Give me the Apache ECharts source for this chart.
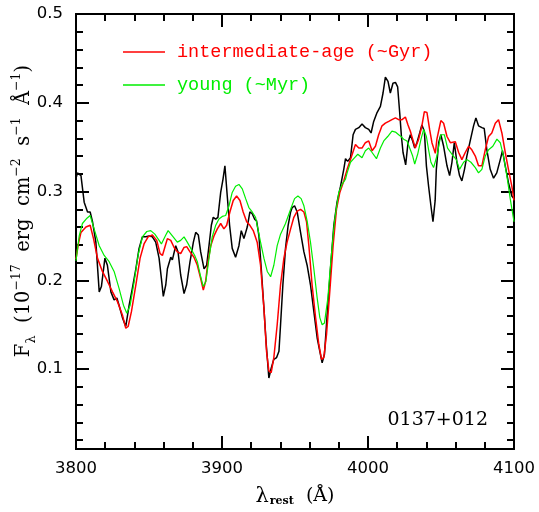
<!DOCTYPE html>
<html>
<head>
<meta charset="utf-8">
<script src="https://cdn.jsdelivr.net/npm/echarts@6/dist/echarts.min.js"></script>
<style>
  html, body { margin: 0; padding: 0; background: #fff; }
  #chart { width: 539px; height: 512px; }
</style>
</head>
<body>
<div id="chart"></div>
<script>
// observed spectrum (black)
const obsWave = [3800.0, 3801.0, 3803.4, 3805.6, 3807.9, 3809.7, 3811.3, 3813.6, 3815.9, 3817.4, 3819.8, 3821.5, 3823.9, 3826.1, 3828.0, 3829.5, 3831.8, 3834.1, 3836.4, 3838.6, 3841.0, 3843.2, 3845.5, 3847.8, 3850.1, 3852.3, 3854.6, 3856.9, 3858.5, 3859.8, 3861.5, 3862.6, 3864.9, 3866.0, 3868.3, 3869.9, 3871.7, 3874.0, 3875.8, 3878.1, 3880.4, 3882.0, 3883.8, 3885.4, 3887.7, 3889.5, 3891.1, 3892.7, 3894.0, 3895.7, 3897.2, 3899.1, 3900.7, 3902.0, 3903.6, 3905.2, 3907.0, 3909.3, 3911.6, 3913.2, 3915.0, 3917.3, 3919.1, 3920.7, 3922.3, 3923.7, 3925.3, 3926.9, 3928.7, 3930.3, 3932.1, 3933.7, 3935.5, 3937.4, 3939.0, 3940.1, 3941.7, 3943.5, 3945.3, 3947.0, 3948.1, 3949.7, 3951.5, 3953.8, 3956.1, 3958.3, 3960.6, 3962.9, 3965.2, 3967.0, 3968.6, 3970.2, 3972.0, 3974.3, 3976.6, 3978.8, 3981.2, 3983.4, 3984.6, 3986.1, 3988.0, 3989.8, 3991.4, 3993.7, 3995.9, 3998.2, 4000.5, 4002.1, 4003.9, 4006.2, 4008.5, 4010.3, 4011.9, 4013.7, 4015.3, 4017.1, 4018.8, 4020.3, 4021.7, 4022.9, 4024.0, 4025.8, 4027.4, 4029.0, 4030.6, 4032.0, 4033.5, 4035.4, 4036.9, 4038.6, 4040.0, 4041.5, 4043.1, 4044.5, 4046.0, 4046.8, 4048.4, 4049.9, 4051.8, 4054.1, 4055.9, 4057.5, 4059.1, 4060.9, 4062.7, 4064.3, 4066.1, 4067.7, 4070.0, 4072.3, 4073.9, 4075.7, 4078.0, 4079.6, 4081.4, 4083.7, 4086.0, 4088.2, 4090.6, 4092.1, 4094.0, 4096.2, 4098.5, 4100.0];
const obsFlux = [0.315, 0.321, 0.318, 0.288, 0.277, 0.277, 0.266, 0.243, 0.187, 0.193, 0.225, 0.217, 0.187, 0.178, 0.180, 0.172, 0.158, 0.148, 0.172, 0.191, 0.213, 0.236, 0.249, 0.249, 0.250, 0.249, 0.243, 0.225, 0.202, 0.182, 0.195, 0.213, 0.226, 0.223, 0.239, 0.232, 0.206, 0.185, 0.195, 0.221, 0.243, 0.254, 0.251, 0.232, 0.213, 0.217, 0.239, 0.262, 0.271, 0.269, 0.271, 0.299, 0.314, 0.329, 0.295, 0.262, 0.236, 0.226, 0.239, 0.256, 0.247, 0.260, 0.277, 0.275, 0.269, 0.267, 0.250, 0.213, 0.169, 0.128, 0.090, 0.101, 0.111, 0.113, 0.120, 0.150, 0.195, 0.236, 0.262, 0.277, 0.282, 0.284, 0.277, 0.254, 0.232, 0.217, 0.195, 0.165, 0.135, 0.120, 0.107, 0.117, 0.161, 0.213, 0.262, 0.288, 0.306, 0.325, 0.337, 0.334, 0.338, 0.364, 0.370, 0.372, 0.376, 0.372, 0.370, 0.366, 0.379, 0.389, 0.396, 0.411, 0.429, 0.424, 0.411, 0.422, 0.423, 0.418, 0.389, 0.362, 0.344, 0.330, 0.355, 0.364, 0.357, 0.349, 0.355, 0.366, 0.375, 0.368, 0.329, 0.306, 0.284, 0.266, 0.290, 0.325, 0.355, 0.364, 0.351, 0.329, 0.318, 0.333, 0.355, 0.333, 0.318, 0.312, 0.325, 0.340, 0.357, 0.374, 0.383, 0.374, 0.372, 0.371, 0.347, 0.325, 0.315, 0.321, 0.336, 0.346, 0.329, 0.310, 0.295, 0.292];

// intermediate-age model (red)
const ageWave = [3800.0, 3801.5, 3803.4, 3806.8, 3809.7, 3812.0, 3814.7, 3818.1, 3821.5, 3825.0, 3828.4, 3831.8, 3834.1, 3835.7, 3838.0, 3841.0, 3843.9, 3846.6, 3849.4, 3852.3, 3855.3, 3857.6, 3859.2, 3861.5, 3862.6, 3864.9, 3867.2, 3869.4, 3871.7, 3874.0, 3875.8, 3878.1, 3880.8, 3883.1, 3885.4, 3887.2, 3888.8, 3890.4, 3892.3, 3894.5, 3896.8, 3899.1, 3901.3, 3903.2, 3905.4, 3907.7, 3910.0, 3912.3, 3914.5, 3916.9, 3919.1, 3921.4, 3924.1, 3926.4, 3928.7, 3930.5, 3932.1, 3933.7, 3935.5, 3937.8, 3940.1, 3942.4, 3944.6, 3947.0, 3949.2, 3951.5, 3953.8, 3956.1, 3957.9, 3959.5, 3961.7, 3964.1, 3966.3, 3968.2, 3969.7, 3971.6, 3973.8, 3976.1, 3978.4, 3980.7, 3983.4, 3985.7, 3988.4, 3991.4, 3993.7, 3995.9, 3998.2, 4000.5, 4002.8, 4005.1, 4007.3, 4009.6, 4011.9, 4014.2, 4016.4, 4018.8, 4021.0, 4023.3, 4025.6, 4027.4, 4029.0, 4030.6, 4032.4, 4034.7, 4036.9, 4038.6, 4040.4, 4042.2, 4043.8, 4046.1, 4047.2, 4049.9, 4051.8, 4054.1, 4056.4, 4059.8, 4062.1, 4064.3, 4066.6, 4068.9, 4071.1, 4073.5, 4075.7, 4078.0, 4080.3, 4082.6, 4084.8, 4087.2, 4089.4, 4091.7, 4094.0, 4096.2, 4098.5, 4100.0];
const ageFlux = [0.224, 0.240, 0.254, 0.260, 0.262, 0.247, 0.225, 0.210, 0.199, 0.187, 0.176, 0.161, 0.146, 0.148, 0.165, 0.195, 0.225, 0.241, 0.249, 0.251, 0.245, 0.230, 0.228, 0.241, 0.247, 0.245, 0.237, 0.232, 0.230, 0.237, 0.238, 0.232, 0.226, 0.217, 0.202, 0.189, 0.199, 0.221, 0.239, 0.250, 0.258, 0.264, 0.258, 0.262, 0.277, 0.290, 0.295, 0.290, 0.277, 0.266, 0.262, 0.256, 0.243, 0.217, 0.169, 0.120, 0.098, 0.096, 0.113, 0.150, 0.195, 0.225, 0.243, 0.258, 0.271, 0.278, 0.280, 0.277, 0.266, 0.239, 0.195, 0.158, 0.128, 0.111, 0.113, 0.139, 0.187, 0.239, 0.280, 0.299, 0.312, 0.325, 0.338, 0.353, 0.349, 0.349, 0.355, 0.357, 0.346, 0.351, 0.364, 0.374, 0.377, 0.379, 0.381, 0.383, 0.381, 0.381, 0.384, 0.375, 0.368, 0.359, 0.349, 0.359, 0.374, 0.390, 0.389, 0.370, 0.355, 0.343, 0.359, 0.380, 0.377, 0.362, 0.355, 0.356, 0.344, 0.336, 0.344, 0.351, 0.347, 0.340, 0.329, 0.329, 0.347, 0.362, 0.366, 0.377, 0.381, 0.366, 0.344, 0.325, 0.306, 0.290];

// young model (green)
const youngWave = [3800.0, 3802.2, 3804.4, 3807.5, 3809.7, 3812.4, 3815.9, 3819.3, 3822.7, 3826.1, 3829.5, 3832.5, 3834.8, 3837.1, 3839.8, 3842.5, 3845.5, 3848.5, 3851.2, 3854.0, 3856.9, 3858.5, 3861.5, 3863.1, 3866.0, 3869.4, 3871.7, 3874.0, 3876.2, 3878.6, 3881.3, 3883.1, 3885.4, 3887.2, 3889.0, 3891.1, 3893.3, 3895.7, 3897.9, 3900.2, 3902.5, 3904.8, 3907.0, 3909.3, 3911.6, 3913.9, 3916.2, 3918.4, 3920.7, 3923.0, 3924.1, 3926.4, 3928.7, 3931.0, 3933.3, 3935.5, 3937.8, 3940.1, 3943.5, 3947.0, 3949.7, 3952.0, 3954.2, 3956.1, 3958.3, 3960.6, 3962.9, 3965.2, 3967.0, 3968.6, 3970.2, 3972.5, 3974.7, 3977.0, 3980.0, 3982.2, 3984.6, 3985.7, 3988.0, 3990.7, 3993.0, 3995.9, 3998.2, 4000.5, 4002.8, 4005.8, 4008.5, 4010.8, 4013.5, 4016.4, 4018.8, 4021.0, 4022.6, 4024.4, 4026.7, 4029.0, 4030.6, 4032.0, 4034.0, 4036.3, 4038.1, 4040.0, 4041.5, 4043.1, 4044.9, 4047.2, 4049.9, 4052.3, 4054.5, 4057.5, 4060.5, 4062.7, 4065.5, 4067.7, 4070.5, 4073.5, 4075.7, 4078.0, 4080.3, 4082.6, 4085.5, 4088.3, 4090.6, 4092.8, 4095.1, 4097.4, 4100.0];
const youngFlux = [0.222, 0.250, 0.264, 0.270, 0.273, 0.258, 0.239, 0.228, 0.221, 0.210, 0.191, 0.172, 0.163, 0.172, 0.198, 0.228, 0.249, 0.255, 0.256, 0.252, 0.245, 0.241, 0.251, 0.256, 0.250, 0.243, 0.245, 0.249, 0.243, 0.236, 0.228, 0.221, 0.204, 0.193, 0.199, 0.225, 0.249, 0.262, 0.269, 0.272, 0.273, 0.284, 0.299, 0.306, 0.308, 0.303, 0.292, 0.282, 0.277, 0.271, 0.262, 0.243, 0.225, 0.210, 0.204, 0.217, 0.239, 0.252, 0.264, 0.280, 0.292, 0.295, 0.292, 0.284, 0.267, 0.243, 0.213, 0.180, 0.158, 0.150, 0.152, 0.180, 0.225, 0.266, 0.299, 0.308, 0.314, 0.321, 0.333, 0.338, 0.342, 0.338, 0.346, 0.349, 0.344, 0.337, 0.349, 0.357, 0.362, 0.368, 0.367, 0.364, 0.362, 0.359, 0.357, 0.347, 0.340, 0.331, 0.342, 0.359, 0.370, 0.362, 0.347, 0.333, 0.327, 0.340, 0.364, 0.364, 0.349, 0.342, 0.336, 0.325, 0.333, 0.336, 0.333, 0.327, 0.321, 0.325, 0.340, 0.347, 0.351, 0.359, 0.355, 0.340, 0.318, 0.292, 0.266];

const seriesNames = ['intermediate-age (~Gyr)', 'young (~Myr)'];
const yMajor = [0.1, 0.2, 0.3, 0.4, 0.5];
const yMinor = [0.02, 0.04, 0.06, 0.08, 0.12, 0.14, 0.16, 0.18, 0.22, 0.24, 0.26, 0.28, 0.32, 0.34, 0.36, 0.38, 0.42, 0.44, 0.46, 0.48];

function pairs(w, f) {
    return w.map((x, i) => [x, f[i]]);
}

const chart = echarts.init(document.getElementById('chart'), null, { renderer: 'canvas' });

const frame = { show: true, lineStyle: { color: '#000', width: 2 } };
const labelFont = { fontFamily: 'DejaVu Sans', fontSize: 16.5, color: '#000' };

// y axis helper: major or minor ticks on left / right
function yAx(pos, values, len, labels) {
    return {
        type: 'value', position: pos, min: 0.01, max: 0.5,
        axisLine: frame,
        splitLine: { show: false },
        axisTick: { show: true, inside: true, length: len, customValues: values, lineStyle: { color: '#000', width: 2 } },
        axisLabel: labels
            ? Object.assign({ show: true, margin: 13, customValues: values, formatter: v => v.toFixed(1) }, labelFont)
            : { show: false }
    };
}

function xAx(pos, labels) {
    return {
        type: 'value', position: pos, min: 3800, max: 4100, interval: 100,
        axisLine: frame,
        splitLine: { show: false },
        axisTick: { show: true, inside: true, length: 13, lineStyle: { color: '#000', width: 2 } },
        minorTick: { show: true, splitNumber: 5, length: 7, lineStyle: { color: '#000', width: 2 } },
        minorSplitLine: { show: false },
        axisLabel: labels ? Object.assign({ show: true, margin: 11, formatter: v => String(v) }, labelFont) : { show: false }
    };
}

const option = {
    animation: false,
    backgroundColor: '#fff',
    grid: { left: 76, right: 25, top: 14, bottom: 59, containLabel: false },
    xAxis: [
        Object.assign(xAx('bottom', true), {
            name: '{l|λ}{s|rest}{n|  (Å)}',
            nameLocation: 'middle',
            nameGap: 37,
            nameTextStyle: {
                rich: {
                    l: { fontFamily: 'DejaVu Serif', fontSize: 21, color: '#000' },
                    s: { fontFamily: 'DejaVu Serif', fontSize: 11, fontWeight: 'bold', color: '#000', verticalAlign: 'bottom', padding: [9, 0, 0, 1] },
                    n: { fontFamily: 'DejaVu Serif', fontSize: 19, color: '#000' }
                }
            }
        }),
        xAx('top', false)
    ],
    yAxis: [
        yAx('left', yMajor, 13, true),
        yAx('right', yMajor, 13, false),
        yAx('left', yMinor, 7, false),
        yAx('right', yMinor, 7, false)
    ],
    legend: {
        left: 118, top: 37,
        orient: 'vertical',
        icon: 'rect',
        itemWidth: 42, itemHeight: 1.5,
        itemGap: 13,
        textStyle: { fontFamily: 'Liberation Mono', fontSize: 18.5, lineHeight: 20, padding: [0, 0, 0, 7] },
        data: [
            { name: seriesNames[0], textStyle: { color: '#ff0000' } },
            { name: seriesNames[1], textStyle: { color: '#00ee00' } }
        ]
    },
    graphic: [
        {
            type: 'text', x: 24, y: 211, rotation: Math.PI / 2,
            style: {
                text: '{t|F}{b|λ}{t|  (10}{p|−17}{t|  erg  cm}{p|−2}{t|  s}{p|−1}{t|  Å}{p|−1}{t|)}',
                align: 'center', verticalAlign: 'middle',
                rich: {
                    t: { fontFamily: 'DejaVu Serif', fontSize: 19.5, fill: '#000', lineHeight: 28 },
                    p: { fontFamily: 'DejaVu Serif', fontSize: 12.5, fill: '#000', verticalAlign: 'top' },
                    b: { fontFamily: 'DejaVu Serif', fontSize: 13, fill: '#000', verticalAlign: 'bottom' }
                }
            }
        },
        {
            type: 'text', right: 51, top: 411,
            style: { text: '0137+012', fontFamily: 'DejaVu Serif', fontSize: 19, fill: '#000' }
        }
    ],
    series: [
        {
            name: 'observed', type: 'line', data: pairs(obsWave, obsFlux),
            showSymbol: false, symbol: 'none', z: 2,
            lineStyle: { color: '#000', width: 1.5 }, itemStyle: { color: '#000' }
        },
        {
            name: seriesNames[0], type: 'line', data: pairs(ageWave, ageFlux),
            showSymbol: false, symbol: 'none', z: 3,
            lineStyle: { color: '#ff0000', width: 1.5 }, itemStyle: { color: '#ff0000' }
        },
        {
            name: seriesNames[1], type: 'line', data: pairs(youngWave, youngFlux),
            showSymbol: false, symbol: 'none', z: 4,
            lineStyle: { color: '#00ee00', width: 1.2 }, itemStyle: { color: '#00ee00' }
        }
    ]
};

chart.setOption(option);
</script>
</body>
</html>
